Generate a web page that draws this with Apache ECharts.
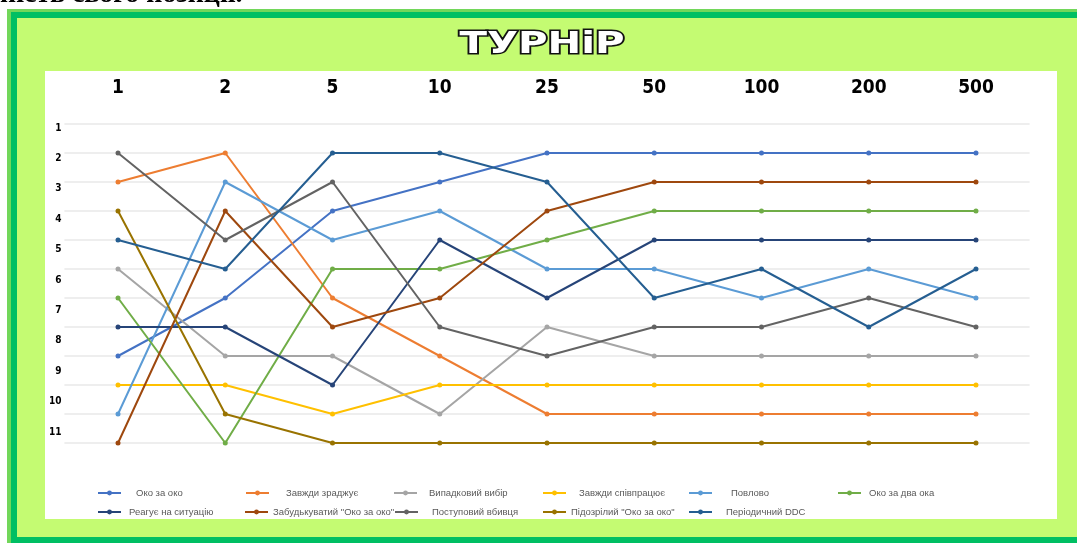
<!DOCTYPE html>
<html>
<head>
<meta charset="utf-8">
<title>Турнір</title>
<script src="https://cdn.jsdelivr.net/npm/echarts@6/dist/echarts.min.js"></script>
<style>
    html, body { margin: 0; padding: 0; background: #fff; }
    #chart { width: 1077px; height: 543px; }
</style>
</head>
<body>
<div id="chart"></div>
<script>
// раунди турніру (верхня вісь) та місця (ліва вісь)
var rounds = ['1', '2', '5', '10', '25', '50', '100', '200', '500']
var rankLabels = [1, 2, 3, 4, 5, 6, 7, 8, 9, 10, 11]

// місце кожної стратегії після раунду
var okoZaOko = [9, 7, 4, 3, 2, 2, 2, 2, 2]
var zavzhdyZradzhuie = [3, 2, 7, 9, 11, 11, 11, 11, 11]
var vypadkovyi = [6, 9, 9, 11, 8, 9, 9, 9, 9]
var zavzhdySpivpratsiuie = [10, 10, 11, 10, 10, 10, 10, 10, 10]
var povlovo = [11, 3, 5, 4, 6, 6, 7, 6, 7]
var okoZaDvaOka = [7, 12, 6, 6, 5, 4, 4, 4, 4]
var reahuie = [8, 8, 10, 5, 7, 5, 5, 5, 5]
var zabudkuvatyi = [12, 4, 8, 7, 4, 3, 3, 3, 3]
var postupovyiVbyvtsia = [2, 5, 3, 8, 9, 8, 8, 7, 8]
var pidozrilyi = [4, 11, 12, 12, 12, 12, 12, 12, 12]
var periodychnyiDDC = [5, 6, 2, 2, 3, 7, 6, 8, 6]

var seriesList = [
    { name: 'Око за око', data: okoZaOko, color: '#4472c4' },
    { name: 'Завжди зраджує', data: zavzhdyZradzhuie, color: '#ed7d31' },
    { name: 'Випадковий вибір', data: vypadkovyi, color: '#a5a5a5' },
    { name: 'Завжди співпрацює', data: zavzhdySpivpratsiuie, color: '#ffc000' },
    { name: 'Повлово', data: povlovo, color: '#5b9bd5' },
    { name: 'Око за два ока', data: okoZaDvaOka, color: '#70ad47' },
    { name: 'Реагує на ситуацію', data: reahuie, color: '#264478' },
    { name: 'Забудькуватий "Око за око"', data: zabudkuvatyi, color: '#9e480e' },
    { name: 'Поступовий вбивця', data: postupovyiVbyvtsia, color: '#636363' },
    { name: 'Підозрілий "Око за око"', data: pidozrilyi, color: '#997300' },
    { name: 'Періодичний DDC', data: periodychnyiDDC, color: '#255e91' }
]

// розкладка легенди: ліва межа значка, рядок, відступ тексту
var legendLeft = [97, 245, 393, 542, 688, 837, 97, 244, 394, 542, 688]
var legendRow = [0, 0, 0, 0, 0, 0, 1, 1, 1, 1, 1]
var legendPad = [10, 12, 7, 8, 14, 3, 3, 0, 9, 0, 9]

var chart = echarts.init(document.getElementById('chart'))

var legends = []
var series = []
for (var i = 0; i < seriesList.length; i++) {
    var s = seriesList[i]
    legends.push({
        data: [s.name],
        left: legendLeft[i],
        top: legendRow[i] === 0 ? 488 : 507,
        itemWidth: 23,
        itemHeight: 6,
        padding: 0,
        textStyle: {
            fontSize: 9.5,
            fontFamily: 'Liberation Sans',
            color: '#595959',
            padding: [0, 0, 0, legendPad[i]]
        }
    })
    series.push({
        name: s.name,
        type: 'line',
        data: s.data,
        yAxisIndex: 0,
        symbol: 'circle',
        symbolSize: 5,
        color: s.color,
        lineStyle: { width: 2 },
        emphasis: { disabled: true }
    })
}

chart.setOption({
    animation: false,
    graphic: [
        // рамка
        { type: 'rect', z: -20, silent: true, shape: { x: 7, y: 9, width: 1080, height: 540 }, style: { fill: '#72d75a' } },
        { type: 'rect', z: -19, silent: true, shape: { x: 11, y: 12, width: 1080, height: 531 }, style: { fill: '#00bf63' } },
        { type: 'rect', z: -18, silent: true, shape: { x: 17, y: 18, width: 1080, height: 519 }, style: { fill: '#c4fb72' } },
        { type: 'rect', z: -17, silent: true, shape: { x: 45, y: 71, width: 1012, height: 448 }, style: { fill: '#ffffff' } },
        // обрізаний рядок тексту над малюнком
        {
            type: 'text', z: 5, silent: true, x: 0, y: -19,
            style: { text: 'ність свого позиції.', font: 'bold 28px "Liberation Serif"', fill: '#000' }
        },
        // заголовок
        {
            type: 'text', z: 10, silent: true, x: 542, y: 45, scaleX: 1.3,
            style: {
                text: 'ТУРНіР',
                font: 'bold 31px "DejaVu Sans"',
                fill: '#ffffff',
                stroke: '#111111',
                lineWidth: 3,
                align: 'center',
                verticalAlign: 'middle'
            }
        }
    ],
    legend: legends,
    grid: {
        left: 64.4,
        right: 47.4,
        top: 124,
        height: 319
    },
    xAxis: {
        type: 'category',
        position: 'top',
        boundaryGap: true,
        data: rounds,
        axisLine: { show: false },
        axisTick: { show: false },
        axisLabel: {
            margin: 26,
            color: '#000',
            fontSize: 19,
            fontWeight: 'bold',
            fontFamily: '"Liberation Sans Narrow", "DejaVu Sans Condensed", sans-serif'
        }
    },
    yAxis: [
        {
            type: 'value',
            inverse: true,
            min: 1,
            max: 12,
            interval: 1,
            axisLine: { show: false },
            axisTick: { show: false },
            axisLabel: { show: false },
            splitLine: { lineStyle: { color: '#e9e9e9', width: 1.5 } }
        },
        {
            // підписи місць трохи зсунуті відносно сітки, як на малюнку
            type: 'value',
            inverse: true,
            position: 'left',
            min: 0.868,
            max: 11.36,
            axisLine: { show: false },
            axisTick: { show: false },
            splitLine: { show: false },
            axisLabel: {
                customValues: rankLabels,
                margin: 3,
                color: '#000',
                fontSize: 10,
                fontWeight: 'bold',
                fontFamily: '"DejaVu Sans Condensed", sans-serif'
            }
        }
    ],
    series: series
})
</script>
</body>
</html>
